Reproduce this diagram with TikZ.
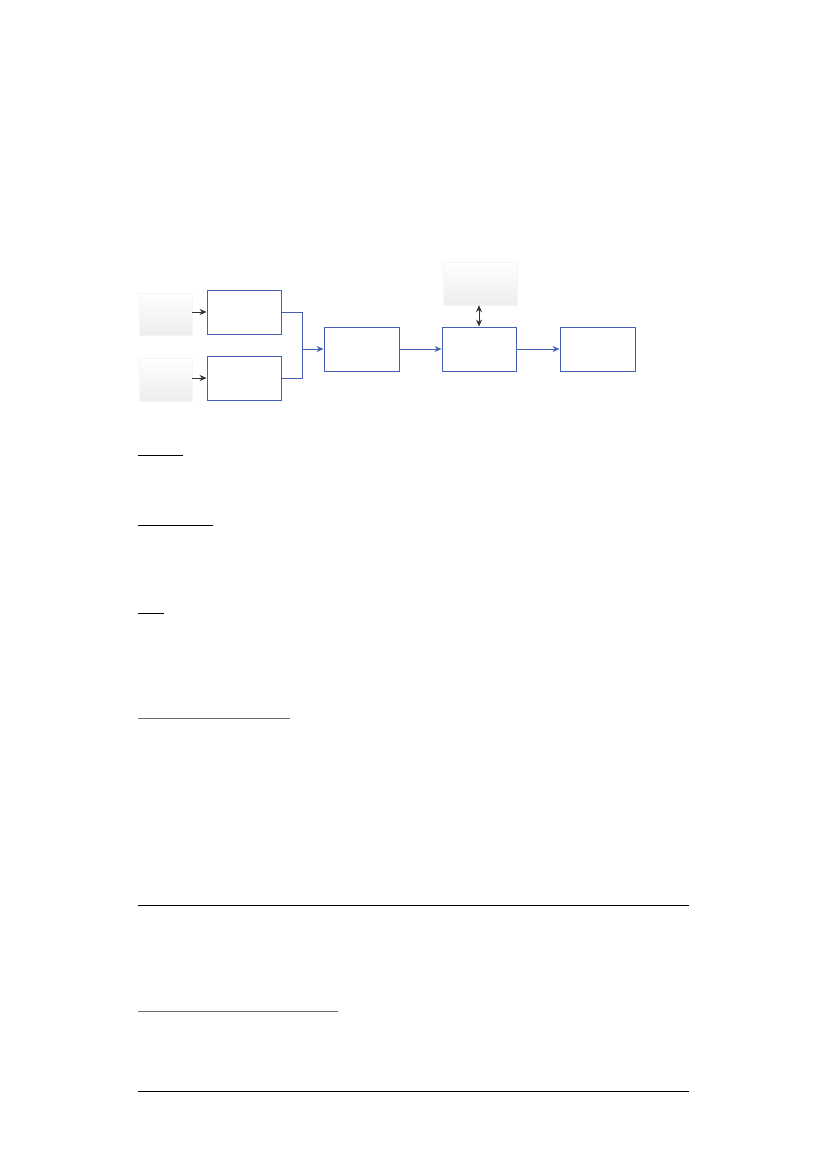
\documentclass[tikz,border=0pt]{standalone}
\usetikzlibrary{arrows.meta,shadows}
\definecolor{boxblue}{RGB}{70,96,180}
\definecolor{darkarrow}{RGB}{50,50,50}
\begin{document}
\begin{tikzpicture}[x=1pt,y=-1pt,
  bluebox/.style={draw=boxblue,line width=0.9pt,fill=white,rectangle,inner sep=0pt,minimum width=74pt,minimum height=44pt},
  graybox/.style={rectangle,inner sep=0pt,top color=white,bottom color=gray!14,draw=gray!8,line width=0.4pt,
     drop shadow={shadow xshift=1.2pt,shadow yshift=-1.2pt,fill=gray!22,opacity=1}},
  bluearrow/.style={draw=boxblue,line width=0.9pt,-{Stealth[length=7pt,width=6pt]}},
  blueline/.style={draw=boxblue,line width=0.9pt},
  blackarrow/.style={draw=darkarrow,line width=1pt,-{Stealth[length=7pt,width=6pt]}},
  blackdouble/.style={draw=darkarrow,line width=1pt,{Stealth[length=7pt,width=6pt]}-{Stealth[length=7pt,width=6pt]}},
  rule/.style={draw=black,line width=1pt},
  grayrule/.style={draw=black!58,line width=1.4pt}
]
\useasboundingbox (0,0) rectangle (827,1169);
\fill[white] (0,0) rectangle (827,1169);

% gray source boxes
\node[graybox,minimum width=53pt,minimum height=42pt] (G1) at (165.5,314) {};
\node[graybox,minimum width=53pt,minimum height=43pt] (G2) at (165.5,379.5) {};
\node[graybox,minimum width=74pt,minimum height=43pt] (T) at (480,283.5) {};

% blue boxes
\node[bluebox] (A) at (244,312) {};
\node[bluebox] (B) at (244,378) {};
\node[bluebox,minimum width=75pt] (C) at (361.5,349) {};
\node[bluebox] (D) at (479,349) {};
\node[bluebox,minimum width=75pt] (E) at (597.5,349) {};

% connectors
\draw[blackarrow] (G1.east |- A.west) -- (A.west);
\draw[blackarrow] (G2.east |- B.west) -- (B.west);
\coordinate (J) at (302,349);
\draw[blueline] (A.east) -| (J);
\draw[blueline] (B.east) -| (J);
\draw[bluearrow] (J) -- (C.west);
\draw[bluearrow] (C.east) -- (D.west);
\draw[bluearrow] (D.east) -- (E.west);
\draw[blackdouble] (T.south -| D.north) -- (D.north);

% underlines and rules
\draw[rule] (138,455) -- (183,455);
\draw[rule] (138,525.5) -- (212.5,525.5);
\draw[rule] (138,613) -- (164,613);
\draw[grayrule] (138,718.5) -- (290,718.5);
\draw[rule] (138,905.5) -- (689,905.5);
\draw[grayrule] (138,1011.5) -- (338,1011.5);
\draw[rule] (138,1091.5) -- (689,1091.5);
\end{tikzpicture}
\end{document}
